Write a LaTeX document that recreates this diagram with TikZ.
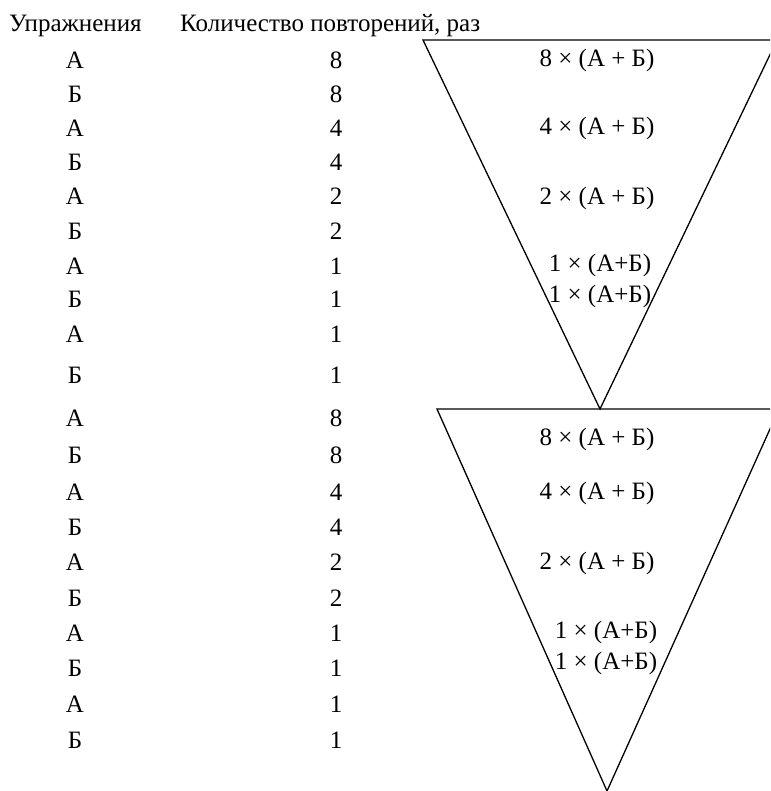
\documentclass[tikz,border=0pt]{standalone}
\usepackage{fontspec}
\setmainfont{Liberation Serif}
\begin{document}
\begin{tikzpicture}[x=1pt,y=-1pt,
  txt/.style={inner sep=0pt,anchor=base,font=\fontsize{25}{30}\selectfont},
  hdr/.style={txt,anchor=base west},
  tri/.style={draw=black,line width=1.3pt,line join=miter}]
\useasboundingbox (0,0) rectangle (770,791);
\clip (0,0) rectangle (770,791);
% headers
\node[hdr] (h1) at (9,32) {Упражнения};
\node[hdr] (h2) at (180,32) {Количество повторений, раз};
% triangles
\draw[tri] (423,40) -- (777,40) -- (600,409) -- cycle;
\draw[tri] (437,409) -- (779,409) -- (607,791) -- cycle;
% block 1
\foreach \n/\l/\v/\y in {a1/А/8/69, a2/Б/8/103, a3/А/4/137, a4/Б/4/171, a5/А/2/205,
  a6/Б/2/240, a7/А/1/274, a8/Б/1/307, a9/А/1/342, a10/Б/1/383,
  b1/А/8/426, b2/Б/8/463, b3/А/4/500, b4/Б/4/535, b5/А/2/570,
  b6/Б/2/606, b7/А/1/641, b8/Б/1/676, b9/А/1/712, b10/Б/1/748}{
  \node[txt] (\n l) at (75,\y) {\l};
  \node[txt] (\n v) at (336,\y) {\v};
}
% triangle 1 texts
\node[txt] (t1a) at (597,67) {8 × (А + Б)};
\node[txt] (t1b) at (597,135) {4 × (А + Б)};
\node[txt] (t1c) at (597,205) {2 × (А + Б)};
\node[txt] (t1d) at (600,272) {1 × (А+Б)};
\node[txt] (t1e) at (600,302) {1 × (А+Б)};
% triangle 2 texts
\node[txt] (t2a) at (597,445) {8 × (А + Б)};
\node[txt] (t2b) at (597,499) {4 × (А + Б)};
\node[txt] (t2c) at (597,569) {2 × (А + Б)};
\node[txt] (t2d) at (606,638) {1 × (А+Б)};
\node[txt] (t2e) at (606,669) {1 × (А+Б)};
\end{tikzpicture}
\end{document}
